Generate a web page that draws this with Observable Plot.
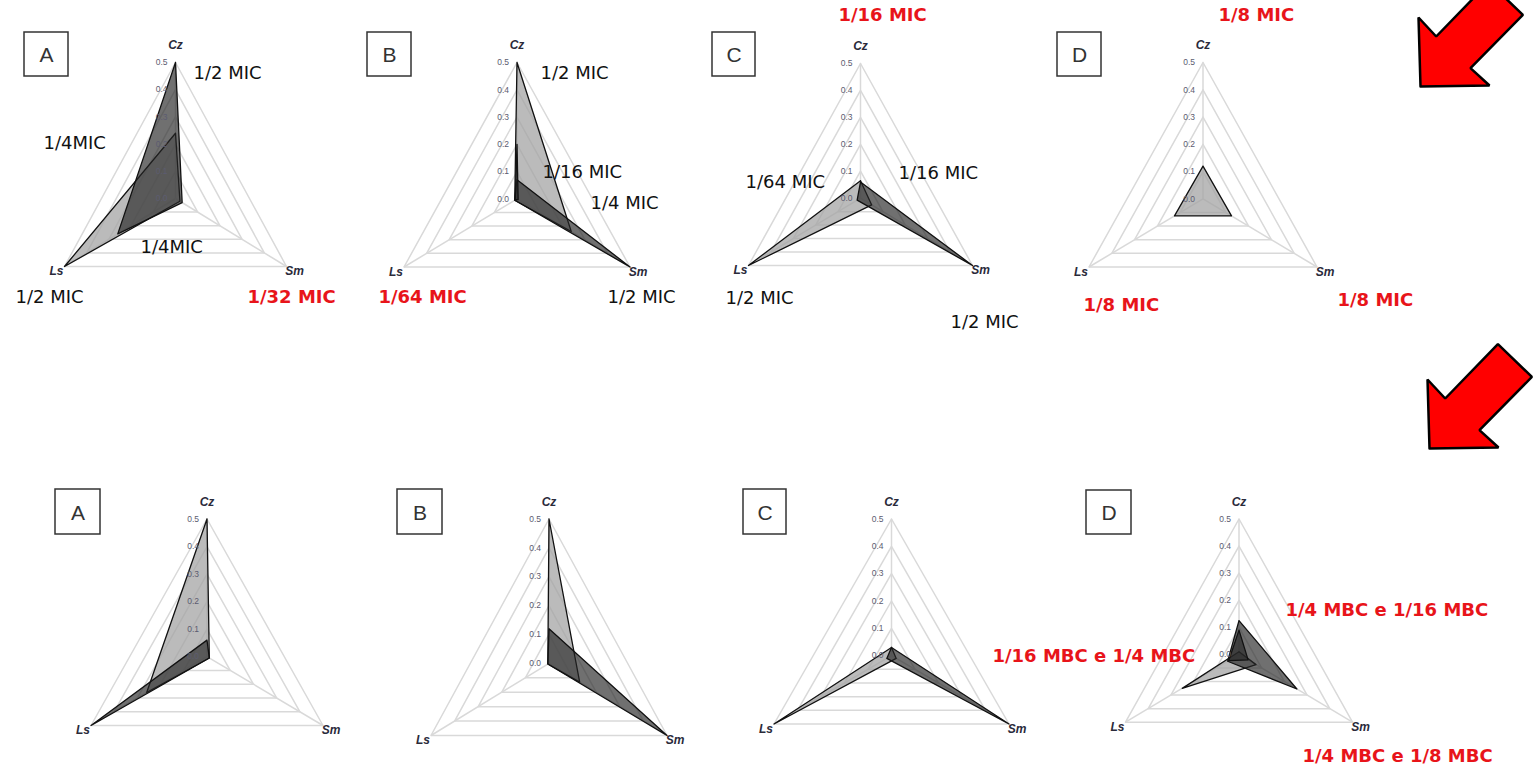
<!DOCTYPE html>
<html>
<head>
<meta charset="utf-8">
<script src="https://cdn.jsdelivr.net/npm/d3@7"></script>
<script src="https://cdn.jsdelivr.net/npm/@observablehq/plot@0.6"></script>
<style>
  html, body { margin: 0; padding: 0; background: #ffffff; }
</style>
</head>
<body>
<div id="chart"></div>
<script>
// ---------- DATA ----------
const axesNames = ["Cz", "Sm", "Ls"];
const tickValues = [0.0, 0.1, 0.2, 0.3, 0.4, 0.5];
const tickLabels = ["0.0", "0.1", "0.2", "0.3", "0.4", "0.5"];
const panelLetters = ["A", "B", "C", "D", "A", "B", "C", "D"];

// series per panel: values on [Cz, Sm, Ls], tone = light / dark fill
const micA = [
  {tone: "light", v: [0.24, 0.02, 0.50]},
  {tone: "dark",  v: [0.50, 0.03, 0.26]}
];
const micB = [
  {tone: "light", v: [0.50, 0.24, 0.01]},
  {tone: "dark",  v: [0.07, 0.50, 0.01]},
  {tone: "dark",  v: [0.20, 0.005, 0.008]}
];
const micC = [
  {tone: "light", v: [0.065, 0.05, 0.50]},
  {tone: "dark",  v: [0.06, 0.50, 0.015]}
];
const micD = [
  {tone: "light", v: [0.12, 0.125, 0.125]}
];
const mbcA = [
  {tone: "light", v: [0.50, 0.01, 0.26]},
  {tone: "dark",  v: [0.06, 0.01, 0.50]}
];
const mbcB = [
  {tone: "light", v: [0.50, 0.13, 0.005]},
  {tone: "dark",  v: [0.12, 0.50, 0.005]}
];
const mbcC = [
  {tone: "light", v: [0.03, 0.02, 0.50]},
  {tone: "dark",  v: [0.03, 0.50, 0.02]}
];
const mbcD = [
  {tone: "light", v: [0.01, 0.075, 0.25]},
  {tone: "dark",  v: [0.125, 0.255, 0.05]},
  {tone: "dark",  v: [0.09, 0.04, 0.045]}
];
const panelSeries = [micA, micB, micC, micD, mbcA, mbcB, mbcC, mbcD];

// annotation texts (black = concentration label, red = highlighted)
const notesBlack = ["1/2 MIC", "1/4MIC", "1/4MIC", "1/2 MIC",
                    "1/2 MIC", "1/16 MIC", "1/4 MIC", "1/2 MIC",
                    "1/64 MIC", "1/16 MIC", "1/2 MIC", "1/2 MIC"];
const notesRed = ["1/32 MIC", "1/64 MIC", "1/16 MIC", "1/8 MIC", "1/8 MIC", "1/8 MIC",
                  "1/4 MBC e 1/16 MBC", "1/16 MBC e 1/4 MBC", "1/4 MBC e 1/8 MBC"];

// ---------- LAYOUT (pixels) ----------
const W = 1537, H = 770;
// apex x/y, base y, half width of the outer triangle, box of the letter
const layout = [
  {ax: 175,    ay: 62,    by: 266,   hw: 111,   box: [24, 32, 68, 76]},
  {ax: 516.5,  ay: 62,    by: 266.5, hw: 113,   box: [367, 32, 411, 76]},
  {ax: 860,    ay: 63,    by: 265,   hw: 112,   box: [712, 32, 755, 76]},
  {ax: 1202.5, ay: 62,    by: 266.5, hw: 114,   box: [1057, 32, 1101, 76]},
  {ax: 206.5,  ay: 518.5, by: 725,   hw: 116,   box: [55, 489, 100, 534]},
  {ax: 548.5,  ay: 518.5, by: 735,   hw: 118,   box: [397, 489, 442, 534]},
  {ax: 891,    ay: 518.5, by: 723.5, hw: 117.5, box: [743, 489, 786, 534]},
  {ax: 1238.5, ay: 518.5, by: 721.7, hw: 113.5, box: [1086, 490, 1131, 534]}
];
const notesBlackPos = [[193, 73], [43, 143], [140, 247], [15, 297],
                       [540, 73], [542, 172], [590, 203], [607, 297],
                       [745, 182], [898, 173], [725, 298], [950, 322]];
const notesRedPos = [[247, 297], [378, 297], [838, 15], [1218, 15], [1083, 305], [1337, 300],
                     [1285, 610], [992, 656], [1302, 756]];
const arrowTips = [[1420, 86], [1429, 448]];
const arrowShape = [[0, 0], [-2, -69], [15.7, -50], [68.4, -104.3], [102.4, -71.6],
                    [50, -18.3], [69, -1], [0, 0]];

// ---------- GEOMETRY ----------
function geom(p) {
  const Ry = (p.by - p.ay) / 1.5;
  const cy = p.ay + Ry;
  const Rx = p.hw / Math.sin(Math.PI / 3);
  return {cx: p.ax, cy, Rx, Ry};
}
function pt(p, k, v) {
  const g = geom(p);
  const th = k * 2 * Math.PI / 3;
  return [g.cx + (v / 0.5) * g.Rx * Math.sin(th), g.cy - (v / 0.5) * g.Ry * Math.cos(th)];
}

const gridRows = [], spokeRows = [], polyRows = [], tickRows = [], axisRows = [], boxRows = [], letterRows = [];
layout.forEach((p, i) => {
  tickValues.slice(1).forEach(t => {
    [0, 1, 2, 0].forEach(k => {
      const [x, y] = pt(p, k, t);
      gridRows.push({key: `g${i}-${t}`, x, y});
    });
  });
  [0, 1, 2].forEach(k => {
    const [x0, y0] = pt(p, k, 0);
    const [x1, y1] = pt(p, k, 0.5);
    spokeRows.push({x1: x0, y1: y0, x2: x1, y2: y1});
  });
  panelSeries[i].forEach((s, si) => {
    [0, 1, 2, 0].forEach(k => {
      const [x, y] = pt(p, k, s.v[k]);
      polyRows.push({key: `p${i}-${si}`, tone: s.tone, x, y});
    });
  });
  tickValues.forEach((t, ti) => {
    const [x, y] = pt(p, 0, t);
    tickRows.push({x: x - 8, y, text: tickLabels[ti]});
  });
  const top = pt(p, 0, 0.5), sm = pt(p, 1, 0.5), ls = pt(p, 2, 0.5);
  axisRows.push({x: top[0], y: top[1] - 17, text: axesNames[0], anchor: "middle"});
  axisRows.push({x: sm[0] + 8, y: sm[1] + 5, text: axesNames[1], anchor: "start"});
  axisRows.push({x: ls[0] - 8, y: ls[1] + 5, text: axesNames[2], anchor: "end"});
  boxRows.push({x1: p.box[0], y1: p.box[1], x2: p.box[2], y2: p.box[3]});
  letterRows.push({x: (p.box[0] + p.box[2]) / 2, y: (p.box[1] + p.box[3]) / 2 + 1, text: panelLetters[i]});
});

const arrowRows = [];
arrowTips.forEach((tip, i) => arrowShape.forEach(([dx, dy]) => arrowRows.push({key: i, x: tip[0] + dx, y: tip[1] + dy})));

const blackRows = notesBlack.map((t, i) => ({text: t, x: notesBlackPos[i][0], y: notesBlackPos[i][1]}));
const redRows = notesRed.map((t, i) => ({text: t, x: notesRedPos[i][0], y: notesRedPos[i][1]}));

const chart = Plot.plot({
  width: W,
  height: H,
  margin: 0,
  style: {background: "#ffffff"},
  x: {type: "linear", domain: [0, W], range: [0, W], axis: null},
  y: {type: "linear", domain: [0, H], range: [0, H], axis: null},
  marks: [
    Plot.line(gridRows, {x: "x", y: "y", z: "key", stroke: "#d9d9d9", strokeWidth: 1.5}),
    Plot.link(spokeRows, {x1: "x1", y1: "y1", x2: "x2", y2: "y2", stroke: "#d9d9d9", strokeWidth: 1.5}),
    Plot.line(polyRows.filter(d => d.tone === "light"), {x: "x", y: "y", z: "key", fill: "#a3a3a3", fillOpacity: 0.74, stroke: "#111", strokeWidth: 1.3, strokeLinejoin: "round"}),
    Plot.line(polyRows.filter(d => d.tone === "dark"), {x: "x", y: "y", z: "key", fill: "#262626", fillOpacity: 0.66, stroke: "#111", strokeWidth: 1.3, strokeLinejoin: "round"}),
    Plot.text(tickRows, {x: "x", y: "y", text: "text", textAnchor: "end", fontSize: 8.5, fill: "#5c5c70", fontFamily: "Liberation Sans"}),
    Plot.text(axisRows, {x: "x", y: "y", text: "text", textAnchor: d => d.anchor, fontSize: 12, fontWeight: "bold", fontStyle: "italic", fill: "#2a2a3a", fontFamily: "Liberation Sans"}),
    Plot.rect(boxRows, {x1: "x1", y1: "y1", x2: "x2", y2: "y2", fill: "none", stroke: "#333", strokeWidth: 1.5}),
    Plot.text(letterRows, {x: "x", y: "y", text: "text", fontSize: 21, fill: "#333", fontFamily: "Liberation Sans"}),
    Plot.text(blackRows, {x: "x", y: "y", text: "text", textAnchor: "start", fontSize: 18, fill: "#111", fontFamily: "DejaVu Sans", ariaLabel: "notes-black"}),
    Plot.text(redRows, {x: "x", y: "y", text: "text", textAnchor: "start", fontSize: 18, fontWeight: "bold", fill: "#e8141a", fontFamily: "DejaVu Sans", ariaLabel: "notes-red"}),
    Plot.line(arrowRows, {x: "x", y: "y", z: "key", fill: "#ff0000", stroke: "#000", strokeWidth: 2.5, strokeLinejoin: "miter"})
  ]
});
document.getElementById("chart").appendChild(chart);
d3.select(chart).selectAll('g[aria-label="notes-black"] text').style("letter-spacing", "1px");
</script>
</body>
</html>
